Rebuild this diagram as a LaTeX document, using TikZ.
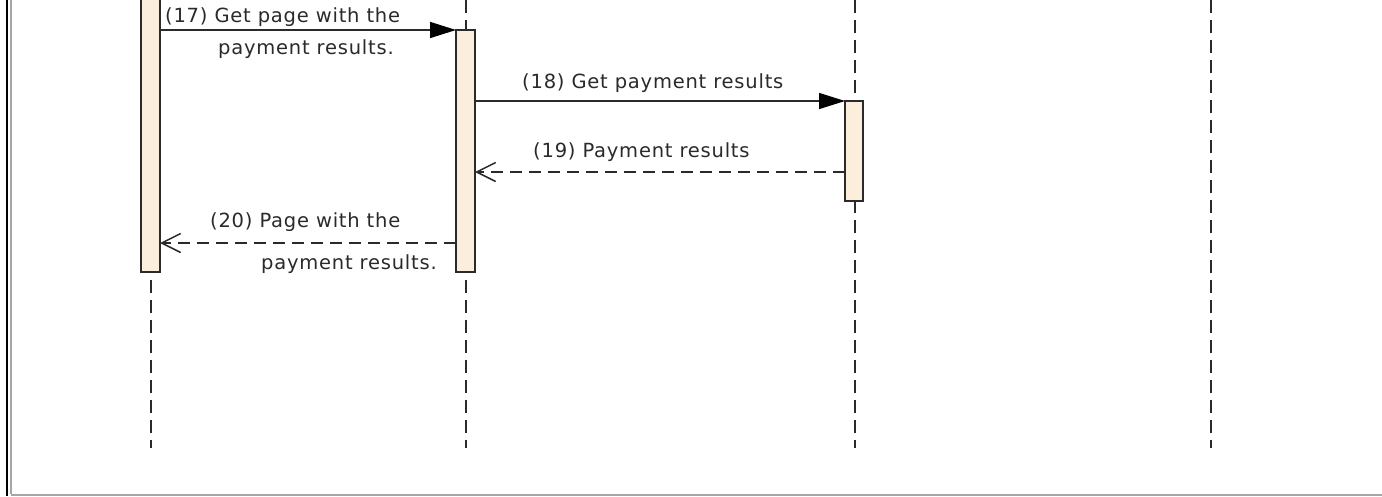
\documentclass[tikz,border=0pt]{standalone}
\usepackage{fontspec}
\setmainfont{DejaVu Sans}[LetterSpace=4]
\usetikzlibrary{arrows.meta}
\definecolor{barfill}{HTML}{FBEEDD}
\definecolor{ink}{HTML}{2A2A2A}
\tikzset{
  x=1pt, y=-1pt,
  lifeline/.style={draw=ink, line width=1.6pt, dash pattern=on 13pt off 7pt},
  actbar/.style={draw=ink, fill=barfill, line width=1.4pt, minimum width=19pt, inner sep=0pt, outer sep=0pt},
  call/.style={draw=ink, line width=1.5pt, -{Triangle[length=26pt,width=16pt,fill=black,color=black]}},
  reply/.style={draw=ink, line width=1.5pt, dash pattern=on 12pt off 7pt, -{Straight Barb[length=19pt,width=19pt,line width=1.5pt]}},
  msg/.style={font=\fontsize{19.5}{22}\selectfont, text=ink, inner sep=0pt, anchor=base west},
}
\begin{document}
\begin{tikzpicture}
\useasboundingbox (0,0) rectangle (1382,496);
\fill[white] (0,0) rectangle (1382,496);
\clip (0,0) rectangle (1382,496);

% lifelines
\draw[lifeline] (151,0) -- (151,448);
\draw[lifeline] (466,0) -- (466,448);
\draw[lifeline] (855,0) -- (855,448);
\draw[lifeline] (1211,0) -- (1211,448);

% activation bars
\node[actbar, minimum height=282pt, anchor=north] (bar1) at (150.5,-10) {};
\node[actbar, minimum height=242pt, anchor=north] (bar2) at (465.5,30) {};
\node[actbar, minimum height=100pt, anchor=north, minimum width=18pt] (bar3) at (854,101) {};

% message levels
\coordinate (m17) at (0,30);
\coordinate (m18) at (0,101);
\coordinate (m19) at (0,172);
\coordinate (m20) at (0,243);

% messages
\draw[call] (bar1.east |- m17) -- (bar2.west |- m17);
\draw[call] (bar2.east |- m18) -- (bar3.west |- m18);
\draw[reply] (bar3.west |- m19) -- (bar2.east |- m19);
\draw[reply] (bar2.west |- m20) -- (bar1.east |- m20);

% labels
\node[msg] (l17a) at (165,22) {(17) Get page with the};
\node[msg] (l17b) at (218,54) {payment results.};
\node[msg] (l18) at (522,88) {(18) Get payment results};
\node[msg] (l19) at (533,157) {(19) Payment results};
\node[msg] (l20a) at (210,227) {(20) Page with the};
\node[msg] (l20b) at (261,269) {payment results.};

% window frame
\draw[black, line width=2.2pt] (7,0) -- (7,496);
\draw[gray!70, line width=1.6pt] (11,0) -- (11,494);
\draw[gray!70, line width=2pt] (11,494.5) -- (1382,494.5);
\end{tikzpicture}
\end{document}
